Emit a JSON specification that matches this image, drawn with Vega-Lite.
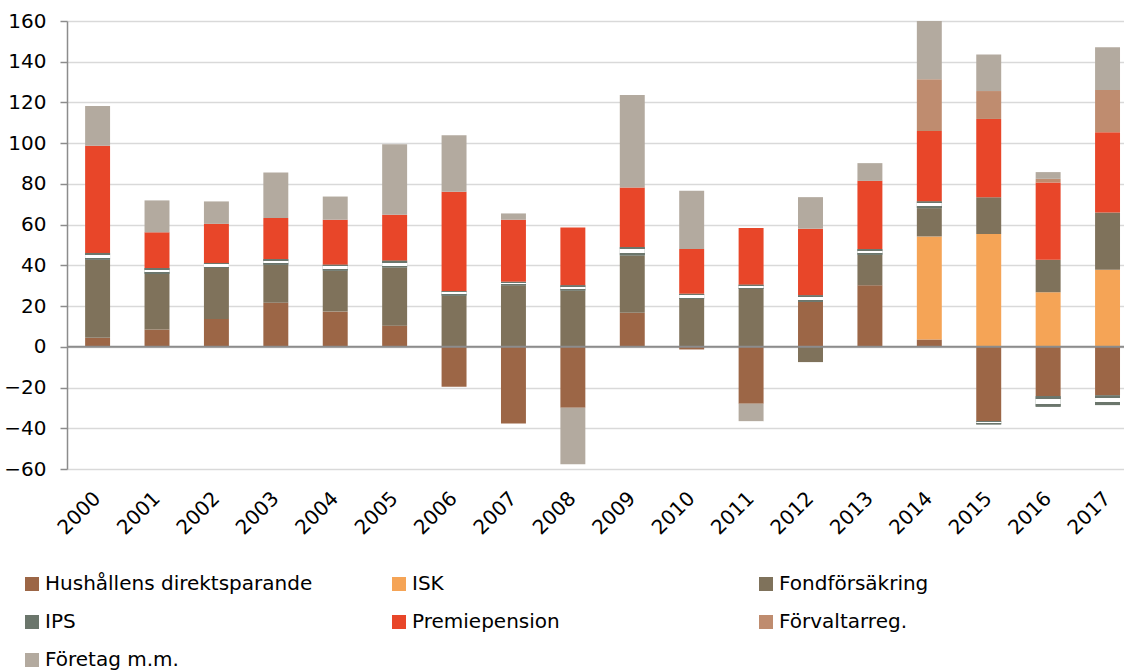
{
  "$schema": "https://vega.github.io/schema/vega-lite/v6.json",
  "width": 1057,
  "height": 448,
  "autosize": {"type": "none"},
  "padding": {"left": 67, "top": 21, "right": 0, "bottom": 201},
  "background": "white",
  "config": {"view": {"stroke": null}, "font": "DejaVu Sans"},
  "data": {"values": [
    {"year": "2000", "series": "Hushållens direktsparande", "value": 4.4},
    {"year": "2000", "series": "Fondförsäkring", "value": 38.4},
    {"year": "2000", "series": "IPS", "value": 3.3},
    {"year": "2000", "series": "Premiepension", "value": 52.7},
    {"year": "2000", "series": "Företag m.m.", "value": 19.5},
    {"year": "2001", "series": "Hushållens direktsparande", "value": 8.5},
    {"year": "2001", "series": "Fondförsäkring", "value": 27.3},
    {"year": "2001", "series": "IPS", "value": 2.9},
    {"year": "2001", "series": "Premiepension", "value": 17.5},
    {"year": "2001", "series": "Företag m.m.", "value": 15.7},
    {"year": "2002", "series": "Hushållens direktsparande", "value": 13.7},
    {"year": "2002", "series": "Fondförsäkring", "value": 25.0},
    {"year": "2002", "series": "IPS", "value": 2.5},
    {"year": "2002", "series": "Premiepension", "value": 19.2},
    {"year": "2002", "series": "Företag m.m.", "value": 11.0},
    {"year": "2003", "series": "Hushållens direktsparande", "value": 21.6},
    {"year": "2003", "series": "Fondförsäkring", "value": 18.7},
    {"year": "2003", "series": "IPS", "value": 2.8},
    {"year": "2003", "series": "Premiepension", "value": 20.1},
    {"year": "2003", "series": "Företag m.m.", "value": 22.4},
    {"year": "2004", "series": "Hushållens direktsparande", "value": 17.3},
    {"year": "2004", "series": "Fondförsäkring", "value": 20.1},
    {"year": "2004", "series": "IPS", "value": 2.9},
    {"year": "2004", "series": "Premiepension", "value": 22.1},
    {"year": "2004", "series": "Företag m.m.", "value": 11.4},
    {"year": "2005", "series": "Hushållens direktsparande", "value": 10.4},
    {"year": "2005", "series": "Fondförsäkring", "value": 28.6},
    {"year": "2005", "series": "IPS", "value": 3.3},
    {"year": "2005", "series": "Premiepension", "value": 22.6},
    {"year": "2005", "series": "Företag m.m.", "value": 34.6},
    {"year": "2006", "series": "Hushållens direktsparande", "value": -19.6},
    {"year": "2006", "series": "Fondförsäkring", "value": 25.1},
    {"year": "2006", "series": "IPS", "value": 2.2},
    {"year": "2006", "series": "Premiepension", "value": 48.8},
    {"year": "2006", "series": "Företag m.m.", "value": 27.8},
    {"year": "2007", "series": "Hushållens direktsparande", "value": -37.7},
    {"year": "2007", "series": "Fondförsäkring", "value": 30.2},
    {"year": "2007", "series": "IPS", "value": 1.7},
    {"year": "2007", "series": "Premiepension", "value": 30.5},
    {"year": "2007", "series": "Företag m.m.", "value": 3.1},
    {"year": "2008", "series": "Hushållens direktsparande", "value": -29.9},
    {"year": "2008", "series": "Fondförsäkring", "value": 27.7},
    {"year": "2008", "series": "IPS", "value": 2.5},
    {"year": "2008", "series": "Premiepension", "value": 28.4},
    {"year": "2008", "series": "Företag m.m.", "value": -27.8},
    {"year": "2009", "series": "Hushållens direktsparande", "value": 16.7},
    {"year": "2009", "series": "Fondförsäkring", "value": 28.2},
    {"year": "2009", "series": "IPS", "value": 4.1},
    {"year": "2009", "series": "Premiepension", "value": 29.2},
    {"year": "2009", "series": "Företag m.m.", "value": 45.5},
    {"year": "2010", "series": "Hushållens direktsparande", "value": -1.3},
    {"year": "2010", "series": "Fondförsäkring", "value": 23.5},
    {"year": "2010", "series": "IPS", "value": 2.5},
    {"year": "2010", "series": "Premiepension", "value": 22.0},
    {"year": "2010", "series": "Företag m.m.", "value": 28.6},
    {"year": "2011", "series": "Hushållens direktsparande", "value": -27.9},
    {"year": "2011", "series": "Fondförsäkring", "value": 28.4},
    {"year": "2011", "series": "IPS", "value": 2.1},
    {"year": "2011", "series": "Premiepension", "value": 27.8},
    {"year": "2011", "series": "Företag m.m.", "value": -8.6},
    {"year": "2012", "series": "Hushållens direktsparande", "value": 22.1},
    {"year": "2012", "series": "Fondförsäkring", "value": -7.5},
    {"year": "2012", "series": "IPS", "value": 3.2},
    {"year": "2012", "series": "Premiepension", "value": 32.7},
    {"year": "2012", "series": "Företag m.m.", "value": 15.5},
    {"year": "2013", "series": "Hushållens direktsparande", "value": 30.2},
    {"year": "2013", "series": "Fondförsäkring", "value": 15.0},
    {"year": "2013", "series": "IPS", "value": 2.8},
    {"year": "2013", "series": "Premiepension", "value": 33.5},
    {"year": "2013", "series": "Företag m.m.", "value": 8.7},
    {"year": "2014", "series": "Hushållens direktsparande", "value": 3.6},
    {"year": "2014", "series": "ISK", "value": 50.6},
    {"year": "2014", "series": "Fondförsäkring", "value": 13.9},
    {"year": "2014", "series": "IPS", "value": 3.3},
    {"year": "2014", "series": "Premiepension", "value": 34.6},
    {"year": "2014", "series": "Förvaltarreg.", "value": 25.4},
    {"year": "2014", "series": "Företag m.m.", "value": 28.6},
    {"year": "2015", "series": "Hushållens direktsparande", "value": -36.5},
    {"year": "2015", "series": "ISK", "value": 55.4},
    {"year": "2015", "series": "Fondförsäkring", "value": 18.1},
    {"year": "2015", "series": "IPS", "value": -1.6},
    {"year": "2015", "series": "Premiepension", "value": 38.4},
    {"year": "2015", "series": "Förvaltarreg.", "value": 13.7},
    {"year": "2015", "series": "Företag m.m.", "value": 18.0},
    {"year": "2016", "series": "Hushållens direktsparande", "value": -24.2},
    {"year": "2016", "series": "ISK", "value": 26.8},
    {"year": "2016", "series": "Fondförsäkring", "value": 16.0},
    {"year": "2016", "series": "IPS", "value": -5.2},
    {"year": "2016", "series": "Premiepension", "value": 37.9},
    {"year": "2016", "series": "Förvaltarreg.", "value": 1.8},
    {"year": "2016", "series": "Företag m.m.", "value": 3.3},
    {"year": "2017", "series": "Hushållens direktsparande", "value": -23.9},
    {"year": "2017", "series": "ISK", "value": 37.9},
    {"year": "2017", "series": "Fondförsäkring", "value": 28.1},
    {"year": "2017", "series": "IPS", "value": -4.7},
    {"year": "2017", "series": "Premiepension", "value": 39.4},
    {"year": "2017", "series": "Förvaltarreg.", "value": 20.7},
    {"year": "2017", "series": "Företag m.m.", "value": 21.0}
  ]},
  "transform": [
    {"calculate": "indexof(['Hushållens direktsparande','ISK','Fondförsäkring','IPS','Premiepension','Förvaltarreg.','Företag m.m.'], datum.series)", "as": "ord"},
    {"stack": "value", "groupby": ["year"], "sort": [{"field": "ord", "order": "ascending"}], "as": ["v0", "v1"]}
  ],
  "layer": [
    {
      "mark": {"type": "bar"},
      "encoding": {
        "x": {
          "field": "year", "type": "ordinal",
          "scale": {"paddingInner": 0.58, "paddingOuter": 0.186, "align": 0.82},
          "axis": {"title": null, "labelAngle": -45, "labelAlign": "right", "labelBaseline": "middle", "labelFontSize": 20, "labelColor": "#000000", "labelFont": "DejaVu Sans", "domain": false, "ticks": false, "grid": false, "labelPadding": 26}
        },
        "y": {
          "field": "v0", "type": "quantitative",
          "scale": {"domain": [-60, 160], "nice": false, "zero": false},
          "axis": {"title": null, "values": [-60, -40, -20, 0, 20, 40, 60, 80, 100, 120, 140, 160], "grid": true, "gridColor": "#d9d9d9", "gridWidth": 1.5, "domainColor": "#8c8c8c", "domainWidth": 1.5, "tickColor": "#8c8c8c", "tickSize": 7, "tickWidth": 1.5, "labelFontSize": 20, "labelColor": "#000000", "labelFont": "DejaVu Sans", "labelPadding": 14}
        },
        "y2": {"field": "v1"},
        "color": {
          "field": "series", "type": "nominal",
          "scale": {
            "domain": ["Hushållens direktsparande", "ISK", "Fondförsäkring", "IPS", "Premiepension", "Förvaltarreg.", "Företag m.m."],
            "range": ["#9c6646", "#f5a456", "#7f725b", "#6b766c", "#e84629", "#bf8c6f", "#b3aa9f"]
          },
          "legend": {"title": null, "orient": "none", "legendX": -45, "legendY": 553, "columns": 3, "direction": "horizontal", "gridAlign": "all", "columnPadding": 76, "rowPadding": 18, "symbolType": "square", "symbolSize": 196, "symbolStrokeWidth": 0, "labelFontSize": 20, "labelColor": "#000000", "labelFont": "DejaVu Sans", "labelOffset": 3, "labelLimit": 0, "padding": 0}
        }
      }
    },
    {
      "transform": [{"filter": "datum.series === 'IPS'"}],
      "mark": {"type": "bar", "fill": {"gradient": "linear", "x1": 0, "y1": 0, "x2": 0, "y2": 1, "stops": [{"offset": 0, "color": "#6b766c"}, {"offset": 0.28, "color": "#6b766c"}, {"offset": 0.28, "color": "#ffffff"}, {"offset": 0.72, "color": "#ffffff"}, {"offset": 0.72, "color": "#6b766c"}, {"offset": 1, "color": "#6b766c"}]}},
      "encoding": {
        "x": {"field": "year", "type": "ordinal"},
        "y": {"field": "v0", "type": "quantitative"},
        "y2": {"field": "v1"}
      }
    },
    {
      "data": {"values": [{}]},
      "mark": {"type": "rule", "color": "#8c8c8c", "strokeWidth": 2},
      "encoding": {"y": {"datum": 0}}
    }
  ]
}
